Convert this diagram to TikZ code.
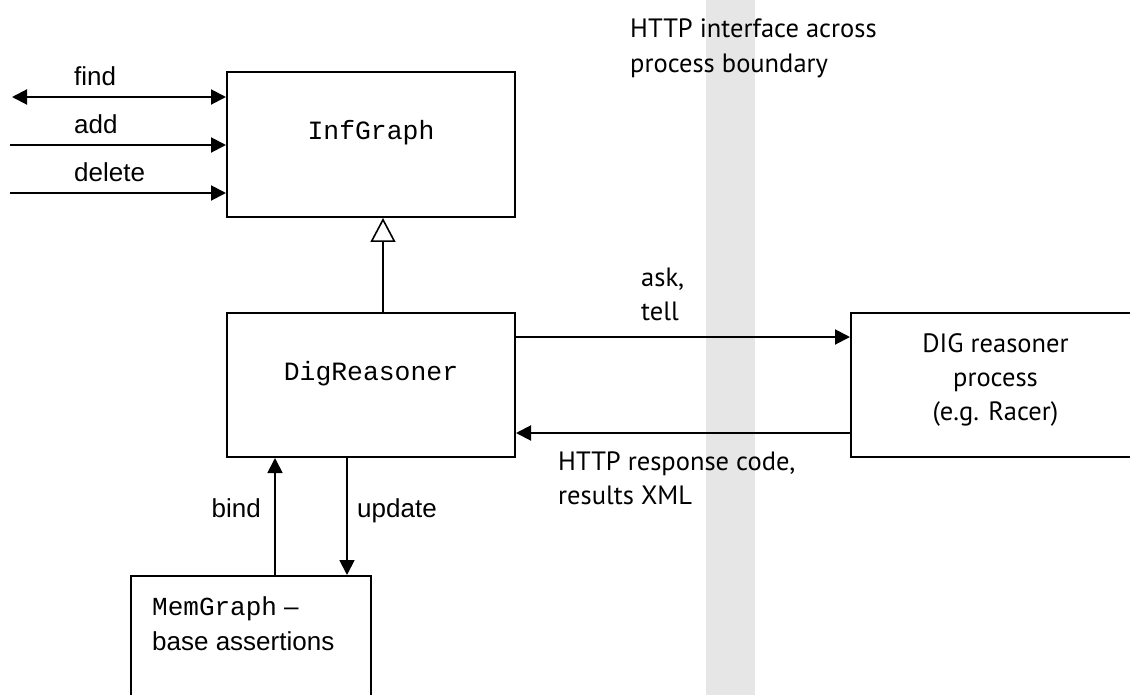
\documentclass[tikz,border=0pt]{standalone}
\usepackage{fontspec}
\usetikzlibrary{arrows.meta}
\newfontfamily\arialf{Liberation Sans}
\newfontfamily\humf{PT Sans}
\newfontfamily\courf{Liberation Mono}
\definecolor{bandgray}{RGB}{230,230,230}
\begin{document}
\begin{tikzpicture}[x=1pt,y=-1pt,
  box/.style={draw=black, line width=2pt, inner sep=0pt, fill=none},
  conn/.style={line width=2pt, draw=black},
  tip/.tip={Triangle[length=15pt,width=15pt]},
  lbl/.style={inner sep=0pt, font=\arialf\fontsize{26}{30}\selectfont},
  hlbl/.style={inner sep=0pt, font=\humf\fontsize{26.5}{32}\selectfont},
  clbl/.style={inner sep=0pt, font=\courf\fontsize{26.4}{30}\selectfont},
]
\path[use as bounding box] (0,0) rectangle (1130,695);
\clip (0,0) rectangle (1130,695);
% process boundary band
\fill[bandgray] (706,0) rectangle (755,695);

% boxes
\node[box, minimum width=288pt, minimum height=145pt] (inf)  at (371,144.5) {};
\node[box, minimum width=288pt, minimum height=144pt] (dig)  at (371,385) {};
\node[box, minimum width=289pt, minimum height=144pt] (proc) at (995.5,385) {};
\node[box, minimum width=240pt, minimum height=150pt] (mem)  at (251,651) {};

% free ends and offsets
\coordinate (findL) at (12,97);
\coordinate (addL) at (10,145);
\coordinate (delL) at (10,193);
\coordinate (inhX) at (383,0);
\coordinate (askY) at (0,337);
\coordinate (respY) at (0,433);
\coordinate (bindX) at (275,0);
\coordinate (updX) at (347,0);

% connectors
\draw[conn, tip-tip] (findL) -- (findL -| inf.west);
\draw[conn, -tip] (addL) -- (addL -| inf.west);
\draw[conn, -tip] (delL) -- (delL -| inf.west);
\draw[conn, -{Triangle[open, length=24pt, width=25pt, fill=white, line width=1.6pt]}]
  (dig.north -| inhX) -- (inf.south -| inhX);
\draw[conn, -tip] (dig.east |- askY) -- (proc.west |- askY);
\draw[conn, -tip] (proc.west |- respY) -- (dig.east |- respY);
\draw[conn, line width=1.8pt, -tip] (mem.north -| bindX) -- (dig.south -| bindX);
\draw[conn, line width=1.8pt, -tip] (dig.south -| updX) -- (mem.north -| updX);

% texts
\node[lbl, anchor=base west] (tfind) at (74,86) {find};
\node[lbl, anchor=base west] (tadd) at (74,134) {add};
\node[lbl, anchor=base west] (tdel) at (74,182) {delete};
\node[clbl, anchor=base] (tinf) at (371,139.5) {InfGraph};
\node[clbl, anchor=base] (tdig) at (371,380) {DigReasoner};
\node[hlbl, anchor=base west] (thttp1) at (630,37.7) {HTTP interface across};
\node[hlbl, anchor=base west] (thttp2) at (630,72.7) {process boundary};
\node[hlbl, anchor=base west] (task) at (641,286) {ask,};
\node[hlbl, anchor=base west] (ttell) at (641,320.7) {tell};
\node[hlbl, anchor=base] (tproc1) at (995.5,352) {DIG reasoner};
\node[hlbl, anchor=base] (tproc2) at (995.5,386) {process};
\node[hlbl, anchor=base] (tproc3) at (995.5,420) {(e.g. Racer)};
\node[hlbl, anchor=base west] (tresp1) at (558,470) {HTTP response code,};
\node[hlbl, anchor=base west] (tresp2) at (558,504) {results XML};
\node[lbl, anchor=base east] (tbind) at (261,517) {bind};
\node[lbl, anchor=base west] (tupd) at (357,517) {update};
\node[lbl, anchor=base west] (tmem1) at (152,615) {{\courf MemGraph} –};
\node[lbl, anchor=base west] (tmem2) at (152,650) {base assertions};
\end{tikzpicture}
\end{document}
